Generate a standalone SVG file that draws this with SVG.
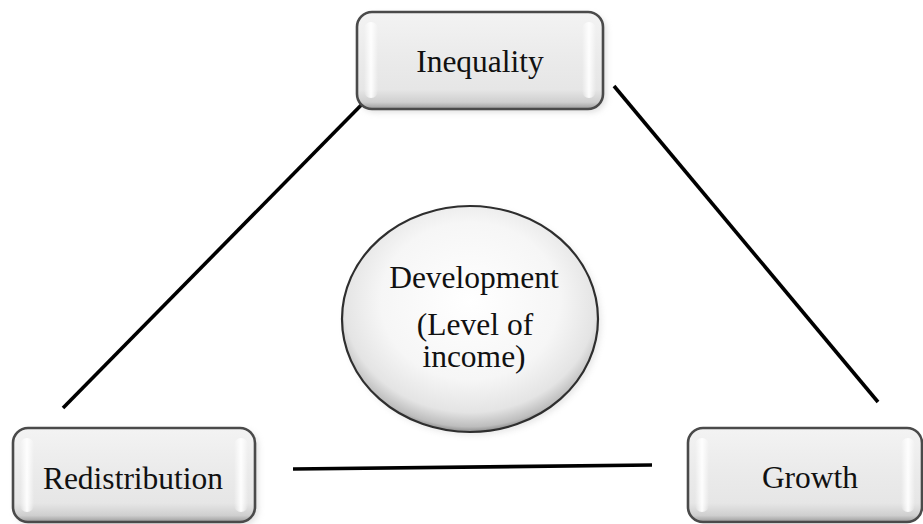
<svg xmlns="http://www.w3.org/2000/svg" width="923" height="524" viewBox="0 0 923 524">
  <defs>
    <style>
      .label { font-family: "Liberation Serif", "Times New Roman", serif; font-size: 31.5px; fill: #111; text-anchor: middle; }
      .edge { stroke: #000; stroke-width: 3.6; stroke-linecap: butt; fill: none; }
      .frame { stroke: #4a4a4a; stroke-width: 2.6; }
    </style>
    <linearGradient id="boxFill" x1="0" y1="0" x2="0" y2="1">
      <stop offset="0" stop-color="#f3f3f3"/>
      <stop offset="0.45" stop-color="#ebebeb"/>
      <stop offset="0.8" stop-color="#e6e6e6"/>
      <stop offset="0.93" stop-color="#cfcfcf"/>
      <stop offset="1" stop-color="#9a9a9a"/>
    </linearGradient>
    <linearGradient id="glint" x1="0" y1="0" x2="1" y2="0">
      <stop offset="0" stop-color="#ffffff" stop-opacity="0"/>
      <stop offset="0.5" stop-color="#ffffff" stop-opacity="0.95"/>
      <stop offset="1" stop-color="#ffffff" stop-opacity="0"/>
    </linearGradient>
    <radialGradient id="ballFill" cx="0.5" cy="0.42" r="0.58">
      <stop offset="0" stop-color="#ffffff"/>
      <stop offset="0.6" stop-color="#f6f6f6"/>
      <stop offset="0.85" stop-color="#e4e4e4"/>
      <stop offset="0.96" stop-color="#bdbdbd"/>
      <stop offset="1" stop-color="#8a8a8a"/>
    </radialGradient>
    <filter id="soft" x="-10%" y="-10%" width="125%" height="130%">
      <feGaussianBlur stdDeviation="3"/>
    </filter>
  </defs>

  <rect width="923" height="524" fill="#ffffff"/>

  <!-- connectors -->
  <g id="connectors">
    <line class="edge" x1="378" y1="88" x2="63" y2="408"/>
    <line class="edge" x1="614" y1="86" x2="878" y2="402"/>
    <line class="edge" x1="293" y1="469" x2="652" y2="465"/>
  </g>

  <!-- top node -->
  <g id="inequality">
    <rect x="360" y="15" width="246" height="97" rx="15" fill="#bbbbbb" opacity="0.5" filter="url(#soft)"/>
    <rect class="frame" x="357" y="12" width="246" height="97" rx="15" fill="url(#boxFill)"/>
    <rect x="364" y="22" width="14" height="76" rx="7" fill="url(#glint)"/>
    <rect x="582" y="22" width="14" height="76" rx="7" fill="url(#glint)"/>
    <text class="label" x="480" y="72">Inequality</text>
  </g>

  <!-- centre node -->
  <g id="development">
    <ellipse cx="473" cy="322" rx="128" ry="113" fill="#c8c8c8" opacity="0.45" filter="url(#soft)"/>
    <ellipse cx="470" cy="319" rx="128" ry="113" fill="url(#ballFill)" stroke="#2e2e2e" stroke-width="2.2"/>
    <text class="label" x="474" y="288">Development</text>
    <text class="label" x="475" y="335">(Level of</text>
    <text class="label" x="474" y="367">income)</text>
  </g>

  <!-- bottom-left node -->
  <g id="redistribution">
    <rect x="16" y="431" width="242" height="94" rx="15" fill="#bbbbbb" opacity="0.5" filter="url(#soft)"/>
    <rect class="frame" x="13" y="428" width="242" height="94" rx="15" fill="url(#boxFill)"/>
    <rect x="20" y="438" width="14" height="74" rx="7" fill="url(#glint)"/>
    <rect x="234" y="438" width="14" height="74" rx="7" fill="url(#glint)"/>
    <text class="label" x="133" y="489">Redistribution</text>
  </g>

  <!-- bottom-right node -->
  <g id="growth">
    <rect class="frame" x="688" y="428" width="234" height="94" rx="15" fill="url(#boxFill)"/>
    <rect x="695" y="438" width="14" height="74" rx="7" fill="url(#glint)"/>
    <rect x="901" y="438" width="14" height="74" rx="7" fill="url(#glint)"/>
    <text class="label" x="810" y="488">Growth</text>
  </g>
</svg>
